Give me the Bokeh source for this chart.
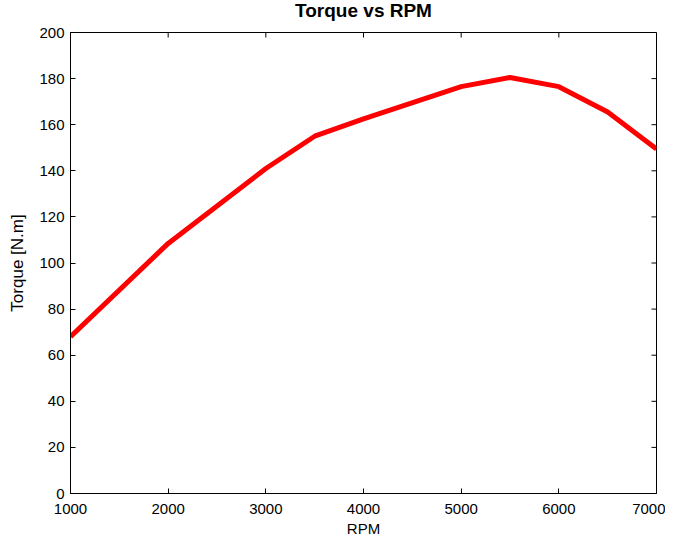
import math
from bokeh.plotting import figure
from bokeh.models import LinearAxis, FixedTicker, Range1d
from bokeh.embed import file_html
from bokeh.resources import INLINE

rpm = [1000, 2000, 3000, 3500, 4000, 5000, 5500, 6000, 6500, 7000]
torque = [68, 108.5, 141, 155, 162.5, 176.5, 180.5, 176.5, 165.5, 149.5]
x_ticks = [1000, 2000, 3000, 4000, 5000, 6000, 7000]
y_ticks = [0, 20, 40, 60, 80, 100, 120, 140, 160, 180, 200]

FONT = "Liberation Sans"

p = figure(output_backend="svg", toolbar_location=None,
           x_range=Range1d(1000, 7000), y_range=Range1d(0, 200),
           x_axis_location=None, y_axis_location=None,
           frame_width=586, frame_height=461,
           min_border_left=70, min_border_right=9, min_border_top=29, min_border_bottom=38)
p.styles = {"margin-top": "-14px"}
p.grid.visible = False
p.outline_line_color = "black"
p.outline_line_width = 1
p.background_fill_color = "white"
p.border_fill_color = "white"

p.title.text = "Torque vs RPM"
p.title.text_font = FONT
p.title.text_font_style = "bold"
p.title.text_font_size = "19px"
p.title.text_color = "black"
p.title.align = "center"
p.title.offset = 0
p.title.standoff = 23

def style(ax):
    ax.axis_line_color = "black"
    ax.major_tick_in = 5
    ax.major_tick_out = 0
    ax.minor_tick_in = 0
    ax.minor_tick_out = 0
    ax.major_tick_line_color = "black"
    ax.major_label_text_font = FONT
    ax.major_label_text_font_size = "15px"
    ax.major_label_text_color = "black"
    ax.axis_label_text_font = FONT
    ax.axis_label_text_font_style = "normal"
    ax.axis_label_text_color = "black"

xb = LinearAxis(axis_label="RPM")
style(xb)
xb.ticker = FixedTicker(ticks=x_ticks)
xb.axis_label_text_font_size = "15px"
xb.major_label_standoff = 10
xb.axis_label_standoff = 3
p.add_layout(xb, "below")

yl = LinearAxis(axis_label="Torque [N.m]")
style(yl)
yl.ticker = FixedTicker(ticks=y_ticks)
yl.axis_label_text_font_size = "17px"
yl.major_label_standoff = 6
yl.axis_label_standoff = 9
p.add_layout(yl, "left")

# inward ticks on the top and right edges of the box
p.ray(x=x_ticks, y=[200] * len(x_ticks), length=5, length_units="screen",
      angle=-math.pi / 2, line_color="black", line_width=1)
p.ray(x=[7000] * len(y_ticks), y=y_ticks, length=5, length_units="screen",
      angle=math.pi, line_color="black", line_width=1)

p.line(rpm, torque, line_color="#ff0000", line_width=5)

open("out.html", "w").write(file_html(p, INLINE))
